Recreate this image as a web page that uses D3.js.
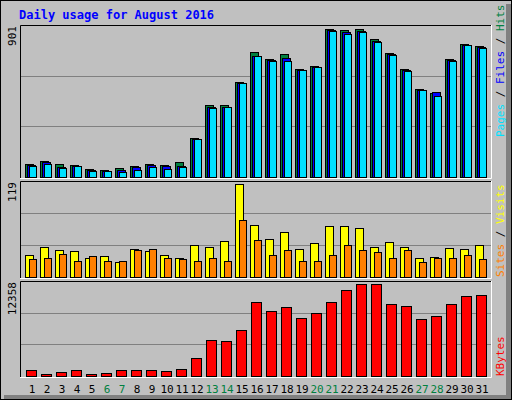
<!DOCTYPE html>
<html>
<head>
<meta charset="utf-8">
<script src="https://cdn.jsdelivr.net/npm/d3@7"></script>
<style>
  body { margin: 0; background: #fff; }
  text { font-family: "DejaVu Sans Mono", monospace; }
</style>
</head>
<body>
<svg id="chart" width="512" height="400"></svg>
<script>
var days = d3.range(1, 32);
var weekends = [6, 7, 13, 14, 20, 21, 27, 28];

var hits  = [77, 96, 77, 71, 47, 41, 53, 65, 77, 71, 89, 237, 436, 436, 576, 759, 716, 747, 656, 674, 899, 893, 901, 838, 753, 656, 534, 510, 716, 810, 796];
var files = [74, 90, 60, 68, 42, 38, 44, 60, 73, 65, 64, 232, 425, 428, 572, 738, 712, 722, 652, 670, 893, 880, 891, 830, 748, 650, 532, 518, 710, 806, 790];
var pages = [65, 77, 53, 65, 35, 35, 29, 41, 59, 47, 59, 229, 418, 424, 570, 735, 704, 704, 650, 668, 887, 868, 881, 820, 741, 644, 528, 491, 704, 802, 783];
var visits = [28, 39, 34, 33, 24, 27, 19, 36, 33, 28, 24, 41, 39, 46, 119, 66, 48, 57, 36, 43, 65, 65, 63, 39, 45, 39, 24, 25, 37, 36, 41];
var sites  = [23, 24, 30, 21, 27, 20, 20, 34, 36, 24, 23, 21, 24, 21, 73, 47, 28, 34, 20, 21, 28, 41, 34, 32, 24, 34, 19, 24, 24, 28, 23];
var kbytes = [865, 324, 595, 865, 324, 460, 865, 865, 865, 730, 1000, 2352, 4786, 4650, 6138, 9924, 8707, 9248, 7761, 8437, 9924, 11546, 12358, 12358, 9653, 9383, 7625, 8031, 9653, 10735, 10870];

var maxHits = 901, maxVisits = 119, maxKbytes = 12358;

var svg = d3.select("#chart");

// frame
svg.append("rect").attr("x", 0.5).attr("y", 0.5).attr("width", 511).attr("height", 399)
    .attr("fill", "#c0c0c0").attr("stroke", "#000");
svg.append("rect").attr("x", 506).attr("y", 4).attr("width", 5).attr("height", 395).attr("fill", "#808080");
svg.append("rect").attr("x", 4).attr("y", 395).attr("width", 507).attr("height", 4).attr("fill", "#808080");
svg.append("rect").attr("x", 0).attr("y", 0).attr("width", 512).attr("height", 400)
    .attr("fill", "none").attr("stroke", "#000");

svg.append("text").attr("x", 19).attr("y", 19)
    .attr("font-size", 12).attr("font-weight", "bold").attr("fill", "#0000ff")
    .text("Daily usage for August 2016");

var x = d3.scaleBand().domain(days).range([25, 490]).paddingInner(0).paddingOuter(0);
var left = 20, right = 491;

function panel(top, bottom, maxVal, maxY, label) {
    var y = d3.scaleLinear().domain([0, maxVal]).range([bottom, maxY]);
    var g = svg.append("g");
    g.append("rect").attr("x", left).attr("y", top).attr("width", right - left).attr("height", bottom - top + 1)
        .attr("fill", "#c0c0c0");
    var h = bottom - top;
    [1, 2].forEach(function(k) {
        g.append("line").attr("x1", left).attr("x2", right)
            .attr("y1", Math.round(bottom - h * k / 3) + 0.5).attr("y2", Math.round(bottom - h * k / 3) + 0.5)
            .attr("stroke", "#808080");
    });
    g.append("path").attr("d", "M" + (left + 0.5) + "," + (bottom + 1) + "V" + (top + 0.5) + "H" + right)
        .attr("fill", "none").attr("stroke", "#000");
    g.append("path").attr("d", "M" + (right + 0.5) + "," + top + "V" + (bottom + 1.5) + "H" + left)
        .attr("fill", "none").attr("stroke", "#fff");
    svg.append("text").attr("transform", "translate(16," + (top + 1) + ") rotate(-90)")
        .attr("text-anchor", "end").attr("font-size", 11).attr("fill", "#000").text(label);
    return { g: g, y: y };
}

function bars(p, values, dx, w, color) {
    p.g.selectAll(null).data(values).enter().append("rect")
        .attr("x", function(d, i) { return Math.round(x(days[i])) + dx + 0.5; })
        .attr("y", function(d) { return Math.round(p.y(d)) + 0.5; })
        .attr("width", w)
        .attr("height", function(d) { return Math.max(0, Math.round(p.y(0)) - Math.round(p.y(d))); })
        .attr("fill", color).attr("stroke", "#000");
}

var top1 = panel(25, 177, maxHits * 153 / 148, 25, "901");
top1.y = d3.scaleLinear().domain([0, maxHits]).range([177, 29]);
bars(top1, hits, 0, 8, "#008040");
bars(top1, files, 2, 8, "#0000ff");
bars(top1, pages, 4, 7, "#00e0ff");

var mid = panel(181, 277, maxVisits, 184, "119");
mid.y = d3.scaleLinear().domain([0, maxVisits]).range([277, 184]);
bars(mid, visits, 0, 8, "#ffff00");
bars(mid, sites, 4, 7, "#ff8000");

var bot = panel(281, 376, maxKbytes, 284, "12358");
bot.y = d3.scaleLinear().domain([0, maxKbytes]).range([376, 284]);
bars(bot, kbytes, 1, 10, "#ff0000");

// day labels
svg.selectAll(".day").data(days).enter().append("text")
    .attr("x", function(d) { return x(d) + 7; })
    .attr("y", 393).attr("text-anchor", "middle").attr("font-size", 11)
    .attr("fill", function(d) { return weekends.indexOf(d) >= 0 ? "#008040" : "#000"; })
    .text(function(d) { return d; });

// right-side legends
function legend(yBottom, parts) {
    var t = svg.append("text").attr("transform", "translate(504," + yBottom + ") rotate(-90)")
        .attr("font-size", 11);
    parts.forEach(function(p) { t.append("tspan").attr("fill", p[1]).text(p[0]); });
}
legend(137, [["Pages", "#00e0ff"], [" / ", "#000"], ["Files", "#0000ff"], [" / ", "#000"], ["Hits", "#008040"]]);
legend(277, [["Sites", "#ff8000"], [" / ", "#000"], ["Visits", "#ffff00"]]);
legend(376, [["KBytes", "#ff0000"]]);
</script>
</body>
</html>
